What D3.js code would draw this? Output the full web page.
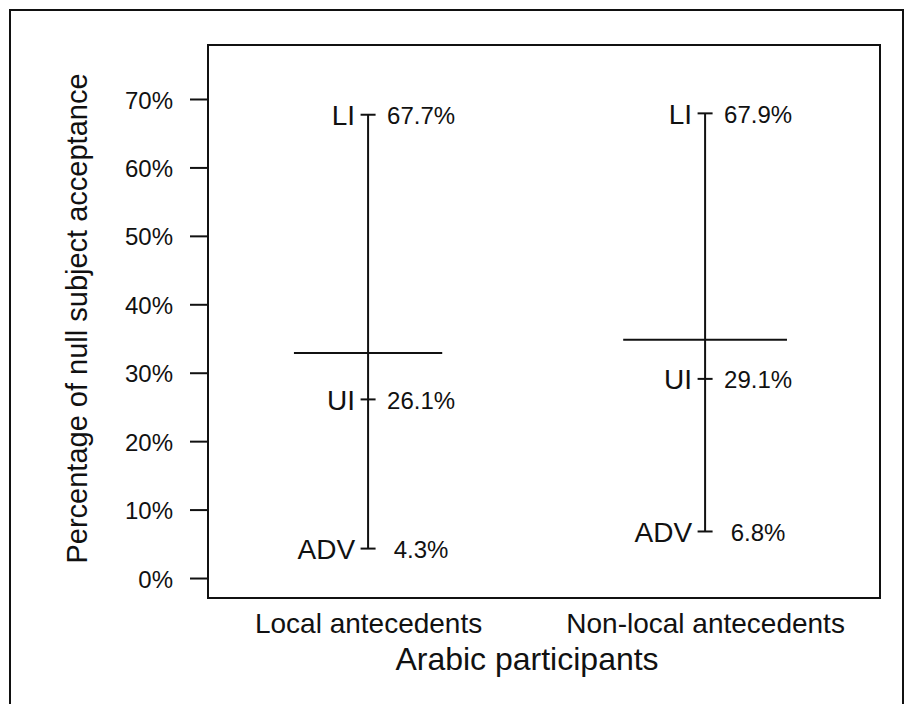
<!DOCTYPE html>
<html>
<head>
<meta charset="utf-8">
<script src="https://cdnjs.cloudflare.com/ajax/libs/d3/7.8.5/d3.min.js"></script>
<style>
    body { margin: 0; background: #fff; }
    text { font-family: "Liberation Sans", Arial, sans-serif; fill: #111; }
</style>
</head>
<body>
<script>
// Data (percent of null subject acceptance)
var categories = ["Local antecedents", "Non-local antecedents"];
var pointNames = ["LI", "UI", "ADV"];
var liValues = [67.7, 67.9];
var uiValues = [26.1, 29.1];
var advValues = [4.3, 6.8];
var meanValues = [32.9, 34.8];
var yTicks = [0, 10, 20, 30, 40, 50, 60, 70];

// Layout of the plot box inside the 914x704 page
var box = {left: 208, top: 45, right: 880, bottom: 598};
var meanHalf = [0.22, 0.243];   // half length of the mean line, x units
var tickHalf = 7.5;             // half width of the little point ticks

var svg = d3.select("body").append("svg")
    .attr("width", 914)
    .attr("height", 704);

// outer frame of the figure (bottom edge falls off the page)
svg.append("rect")
    .attr("x", 10).attr("y", 10)
    .attr("width", 893).attr("height", 720)
    .attr("fill", "none")
    .attr("stroke", "#111")
    .attr("stroke-width", 2);

// Scales: categories at 0 and 1, y in percent
var xScale = d3.scaleLinear()
    .domain([-0.475, 1.519])
    .range([box.left, box.right]);

var yScale = d3.scaleLinear()
    .domain([-2.92, 77.89])
    .range([box.bottom, box.top]);

// y axis, ticks pointing out to the left as in R
var yAxis = d3.axisLeft(yScale)
    .tickValues(yTicks)
    .tickSize(18)
    .tickPadding(17)
    .tickFormat(function(d) { return d + "%"; });

var gy = svg.append("g")
    .attr("transform", "translate(" + box.left + ",0)")
    .call(yAxis);
gy.select(".domain").remove();
gy.selectAll("line").attr("stroke", "#111").attr("stroke-width", 2);
gy.selectAll("text")
    .attr("font-size", "24px")
    .attr("dy", "0.38em")
    .style("fill", "#111");

// category labels under the box
var xAxis = d3.axisBottom(xScale)
    .tickValues([0, 1])
    .tickSize(0)
    .tickPadding(15)
    .tickFormat(function(d) { return categories[d]; });

var gx = svg.append("g")
    .attr("transform", "translate(0," + box.bottom + ")")
    .call(xAxis);
gx.select(".domain").remove();
gx.selectAll("text")
    .attr("font-size", "28px")
    .style("fill", "#111");

// plot box
svg.append("rect")
    .attr("x", box.left).attr("y", box.top)
    .attr("width", box.right - box.left)
    .attr("height", box.bottom - box.top)
    .attr("fill", "none")
    .attr("stroke", "#111")
    .attr("stroke-width", 2);

// axis titles
svg.append("text")
    .attr("x", 527)
    .attr("y", 670)
    .attr("text-anchor", "middle")
    .attr("font-size", "32px")
    .text("Arabic participants");

svg.append("text")
    .attr("transform", "translate(87," + ((box.top + box.bottom) / 2 - 3) +
        ") rotate(-90)")
    .attr("text-anchor", "middle")
    .attr("font-size", "29px")
    .text("Percentage of null subject acceptance");

// one row per category and point, built from the arrays above
var points = [];
categories.forEach(function(c, i) {
    [liValues, uiValues, advValues].forEach(function(arr, j) {
        points.push({cat: i, name: pointNames[j], value: arr[i]});
    });
});

// vertical range line from ADV to LI
svg.selectAll(".range")
    .data(categories)
    .enter()
    .append("line")
    .attr("class", "range")
    .attr("x1", function(d, i) { return xScale(i); })
    .attr("x2", function(d, i) { return xScale(i); })
    .attr("y1", function(d, i) { return yScale(liValues[i]); })
    .attr("y2", function(d, i) { return yScale(advValues[i]); })
    .attr("stroke", "#111")
    .attr("stroke-width", 2);

// mean line across each range
svg.selectAll(".mean")
    .data(meanValues)
    .enter()
    .append("line")
    .attr("class", "mean")
    .attr("x1", function(d, i) { return xScale(i - meanHalf[i]); })
    .attr("x2", function(d, i) { return xScale(i + meanHalf[i]); })
    .attr("y1", function(d) { return yScale(d); })
    .attr("y2", function(d) { return yScale(d); })
    .attr("stroke", "#111")
    .attr("stroke-width", 2);

// little horizontal ticks at LI, UI and ADV
svg.selectAll(".ptick")
    .data(points)
    .enter()
    .append("line")
    .attr("class", "ptick")
    .attr("x1", function(d) { return xScale(d.cat) - tickHalf; })
    .attr("x2", function(d) { return xScale(d.cat) + tickHalf; })
    .attr("y1", function(d) { return yScale(d.value); })
    .attr("y2", function(d) { return yScale(d.value); })
    .attr("stroke", "#111")
    .attr("stroke-width", 2);

// point names to the left
svg.selectAll(".pname")
    .data(points)
    .enter()
    .append("text")
    .attr("class", "pname")
    .attr("x", function(d) { return xScale(d.cat) - 13; })
    .attr("y", function(d) { return yScale(d.value); })
    .attr("dy", "0.37em")
    .attr("text-anchor", "end")
    .attr("font-size", "28px")
    .text(function(d) { return d.name; });

// values to the right
svg.selectAll(".pval")
    .data(points)
    .enter()
    .append("text")
    .attr("class", "pval")
    .attr("x", function(d) { return xScale(d.cat) + 53; })
    .attr("y", function(d) { return yScale(d.value); })
    .attr("dy", "0.4em")
    .attr("text-anchor", "middle")
    .attr("font-size", "24px")
    .text(function(d) { return d.value.toFixed(1) + "%"; });
</script>
</body>
</html>
